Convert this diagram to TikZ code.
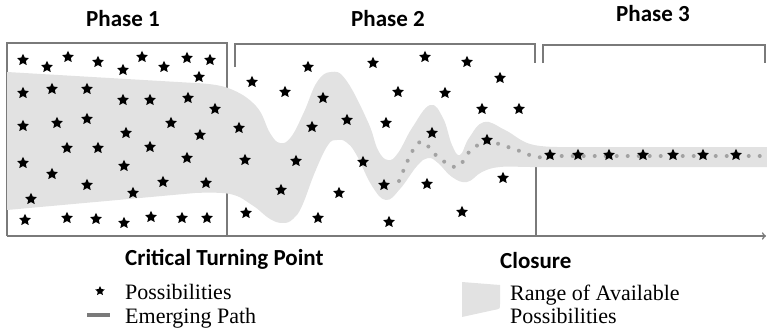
\documentclass[tikz,border=0pt]{standalone}
\usepackage{fontspec}
\setmainfont{Liberation Serif}
\newfontfamily\phasefont{Carlito}
\usetikzlibrary{shapes.geometric}

\tikzset{
    possib/.style={star, star points=5, star point ratio=2.1, fill=black, draw=none, inner sep=0pt, minimum size=12.5pt},
    phaseline/.style={draw=lineColour, line width=1.6pt},
    heading/.style={font=\phasefont\bfseries\fontsize{23}{26}\selectfont, inner sep=0pt},
    legendtext/.style={font=\fontsize{22}{25}\selectfont, inner sep=0pt, anchor=base west},
    pathdots/.style={draw=dotColour, line width=4pt, line cap=round, dash pattern=on 0pt off 11pt}
}

\begin{document}
\begin{tikzpicture}[x=1pt, y=-1pt]
    \definecolor{lineColour}{HTML}{7A7A7A}
    \definecolor{bandColour}{HTML}{E2E2E2}
    \definecolor{dotColour}{HTML}{A2A2A2}

    \useasboundingbox (0,0) rectangle (767,329);

    % Phase frames and time axis
    \draw[phaseline] (7,236) -- (7,43) -- (227,43) -- (227,236);
    \draw[phaseline] (235,67) -- (235,44) -- (535,44) -- (535,63);
    \draw[phaseline] (543,63) -- (543,45) -- (765,45) -- (765,63);
    \draw[phaseline] (536,165) -- (536,236);
    \draw[phaseline, ->] (7,236) -- (766,236);

    % Range of available possibilities
    \fill[bandColour] (7,72) -- (195,83)
        -- plot[smooth, tension=0.7] coordinates {(195,83) (228,88) (256,106) (270,133) (280,143)
            (291,137) (304,112) (317,82) (331,72) (346,80) (368,122) (378,150) (388,160)
            (398,153) (412,128) (430,105) (443,118) (452,145) (460,155) (469,138) (484,122)
            (505,130) (530,144) (560,147)}
        -- (767,147) -- (767,167) -- (560,167)
        -- plot[smooth, tension=0.7] coordinates {(560,167) (530,167) (500,167) (482,172) (467,182)
            (452,177) (438,163) (428,158) (417,166) (400,189) (386,200) (372,186) (356,154)
            (346,142) (337,140) (328,145) (315,172) (302,206) (293,219) (283,223) (270,219)
            (252,205) (230,194) (195,193)}
        -- (7,210) -- cycle;

    % Emerging path
    \draw[pathdots] plot[smooth, tension=0.6] coordinates {(399,181) (413,150) (423,142) (438,157)
        (457,167) (471,150) (488,142) (514,149) (537,157) (560,156)} -- (767,156);

    % Possibilities
    \foreach \x/\y [count=\i] in {23/60, 47/67, 68/57, 98/62, 123/70, 142/57, 164/67, 187/58, 210/60, 199/77,
        23/93, 52/89, 87/89, 123/100, 150/100, 188/98, 215/109,
        23/126, 57/123, 87/119, 126/133, 171/123, 200/135,
        67/148, 98/148, 150/147, 23/163, 124/166, 187/158,
        52/174, 87/185, 163/182, 206/183, 31/199, 133/193,
        25/220, 67/218, 96/219, 124/223, 151/217, 182/218, 207/218}
        \node[possib] (a\i) at (\x,\y) {};
    \foreach \x/\y [count=\i] in {252/82, 308/67, 373/63, 425/57, 467/62, 500/78, 285/92, 323/98,
        398/92, 445/93, 482/109, 519/109, 239/128, 312/127, 347/120, 386/123, 432/133, 487/140,
        245/160, 296/161, 363/162, 281/190, 339/193, 384/185, 427/184, 503/178,
        246/213, 318/218, 389/222, 462/212}
        \node[possib] (b\i) at (\x,\y) {};
    \foreach \x [count=\i] in {550, 578, 609, 643, 673, 703, 736}
        \node[possib] (c\i) at (\x,155) {};

    % Headings
    \node[heading, anchor=base] (phaseA) at (123,27) {Phase 1};
    \node[heading, anchor=base] (phaseB) at (388,27) {Phase 2};
    \node[heading, anchor=base] (phaseC) at (653,22) {Phase 3};
    \node[heading, anchor=base west] (turning) at (125,265) {Critical Turning Point};
    \node[heading, anchor=base west] (closure) at (500,268) {Closure};

    % Legend
    \node[possib, minimum size=10pt] (keyStar) at (100,291) {};
    \node[legendtext] (keyStarText) at (125,299) {Possibilities};
    \coordinate (keyPathA) at (87,315);
    \coordinate (keyPathB) at (110,315);
    \draw[lineColour, line width=4.5pt] (keyPathA) -- (keyPathB);
    \node[legendtext] (keyPathText) at (125,323) {Emerging Path};
    \fill[bandColour] (462,282) -- (500,285) -- (500,304) .. controls (500,309) .. (494,310) -- (462,317) -- cycle;
    \node[legendtext] (keyBandText) at (510,300) {Range of Available};
    \node[legendtext] (keyBandText2) at (510,323) {Possibilities};

\end{tikzpicture}
\end{document}
